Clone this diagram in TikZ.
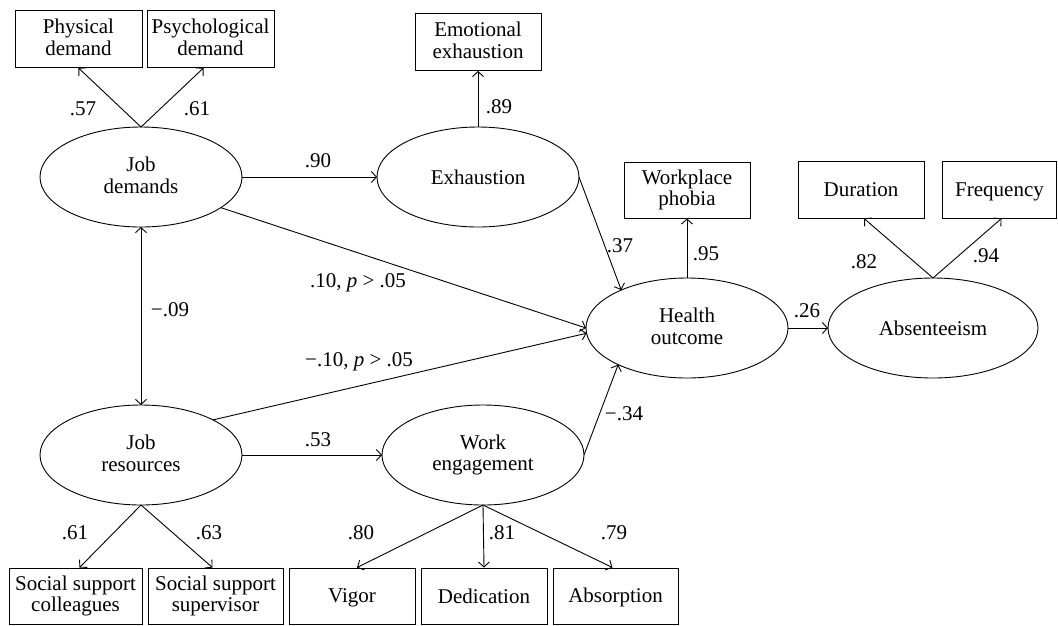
\documentclass[tikz,border=0pt]{standalone}
\usepackage{fontspec}
\setmainfont{Liberation Serif}
\usetikzlibrary{shapes.geometric,arrows.meta}
\newcommand{\mystrut}{\rule[-3.5pt]{0pt}{21.5pt}}
\begin{document}
\begin{tikzpicture}[x=1pt,y=-1pt,
  every node/.style={font=\fontsize{21}{21.5}\selectfont},
  strutted/.style={execute at begin node={\mystrut}, execute at end node={\mystrut}},
  ind/.style={draw, rectangle, line width=0.9pt, inner sep=0pt, align=center, minimum height=57pt, strutted},
  lat/.style={draw, ellipse, line width=0.9pt, inner sep=0pt, outer sep=0pt, align=center, minimum width=202pt, minimum height=100pt, strutted},
  conn/.style={line width=0.9pt, -{Straight Barb[length=5pt,width=11pt]}},
  dconn/.style={line width=0.9pt, {Straight Barb[length=5pt,width=11pt]}-{Straight Barb[length=5pt,width=11pt]}},
  lbl/.style={inner sep=0pt}
]
\useasboundingbox (0,0) rectangle (1058,625);

% latent variables
\node[lat] (JD) at (141,177) {Job\\demands};
\node[lat] (EX) at (478,177) {Exhaustion};
\node[lat] (HO) at (687,328) {Health\\outcome};
\node[lat, minimum width=210pt] (AB) at (933,328) {Absenteeism};
\node[lat] (JR) at (141,455) {Job\\resources};
\node[lat] (WE) at (483,455) {Work\\engagement};

% indicators
\node[ind, minimum width=127pt] (PD) at (78.5,39) {Physical\\demand};
\node[ind, minimum width=127pt] (PsD) at (210.5,39) {Psychological\\demand};
\node[ind, minimum width=126pt] (EE) at (478,42) {Emotional\\exhaustion};
\node[ind, minimum width=126pt, minimum height=56pt] (WP) at (687,190) {Workplace\\phobia};
\node[ind, minimum width=126pt] (DU) at (861,189.5) {Duration};
\node[ind, minimum width=114pt] (FR) at (999.5,189.5) {Frequency};
\node[ind, minimum width=133pt, minimum height=56pt] (SC) at (75.5,596) {Social support\\colleagues};
\node[ind, minimum width=135pt, minimum height=56pt] (SS) at (215.5,596) {Social support\\supervisor};
\node[ind, minimum width=126pt, minimum height=56pt] (VI) at (352,596) {Vigor};
\node[ind, minimum width=126pt, minimum height=56pt] (DE) at (484,596) {Dedication};
\node[ind, minimum width=125pt, minimum height=56pt] (AS) at (615.5,596) {Absorption};

% measurement arrows
\draw[conn] (JD.north) -- (PD.south);
\draw[conn] (JD.north) -- ([xshift=-7pt]PsD.south);
\draw[conn] (EX.north) -- (EE.south);
\draw[conn] (HO.north) -- (WP.south);
\draw[conn] (AB.north) -- ([xshift=3pt]DU.south);
\draw[conn] (AB.north) -- ([xshift=2pt]FR.south);
\draw[conn] (JR.south) -- ([xshift=4pt]SC.north);
\draw[conn] (JR.south) -- ([xshift=-3pt]SS.north);
\draw[conn] (WE.south) -- ([xshift=5pt]VI.north);
\draw[conn] (WE.south) -- (DE.north);
\draw[conn] (WE.south) -- ([xshift=-3pt]AS.north);

% structural arrows
\draw[conn] (JD.east) -- (EX.west);
\draw[conn] (EX.east) -- (HO.150);
\draw[conn] (JD.-21) -- (HO.west);
\draw[dconn] (JD.south) -- (JR.north);
\draw[conn] (JR.26) -- (HO.183);
\draw[conn] (JR.east) -- (WE.west);
\draw[conn] (WE.east) -- (HO.208);
\draw[conn] (HO.east) -- (AB.west);

% labels
\node[lbl] (l1) at (83,109) {.57};
\node[lbl] (l2) at (197,109) {.61};
\node[lbl] (l3) at (318,161) {.90};
\node[lbl] (l4) at (499,107) {.89};
\node[lbl] (l5) at (620,246) {.37};
\node[lbl] (l6) at (358,283) {.10, \textit{p} > .05};
\node[lbl] (l7) at (359,362) {−.10, \textit{p} > .05};
\node[lbl] (l8) at (170,310) {−.09};
\node[lbl] (l9) at (318,440) {.53};
\node[lbl] (l10) at (624,414) {−.34};
\node[lbl] (l11) at (361,533) {.80};
\node[lbl] (l12) at (502,533) {.81};
\node[lbl] (l13) at (614,533) {.79};
\node[lbl] (l14) at (706,254) {.95};
\node[lbl] (l15) at (807,311) {.26};
\node[lbl] (l16) at (864,262) {.82};
\node[lbl] (l17) at (986,256) {.94};
\node[lbl] (l18) at (75,533) {.61};
\node[lbl] (l19) at (209,533) {.63};
\end{tikzpicture}
\end{document}
